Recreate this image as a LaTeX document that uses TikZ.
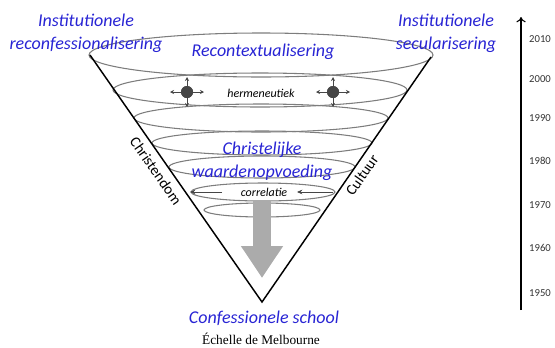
\documentclass[tikz,border=0pt]{standalone}
\usepackage{fontspec}
\setmainfont{Carlito}
\newfontfamily\captionserif{Liberation Serif}
\usetikzlibrary{arrows.meta}
\definecolor{labelblue}{RGB}{40,36,212}
\definecolor{ringgray}{RGB}{125,125,125}
\definecolor{dotgray}{RGB}{70,70,70}
\tikzset{
  bluelabel/.style={color=labelblue, font=\fontsize{13.5}{17}\selectfont\itshape, inner sep=0.75pt, align=center},
  smalllabel/.style={font=\fontsize{9}{11}\selectfont\itshape, inner sep=0.75pt},
  sidelabel/.style={font=\fontsize{11.3}{13}\selectfont, inner sep=0.75pt},
  yearlabel/.style={font=\fontsize{8}{10}\selectfont, color=black!80, inner sep=0.75pt},
  ring/.style={color=ringgray, line width=0.8},
  dotarrow/.style={color=dotgray, line width=0.6, -{Stealth[length=3pt,width=3pt]}},
  corrarrow/.style={color=dotgray, line width=0.7, -{Stealth[length=4pt,width=3.5pt]}},
  hermdot/.style={circle, fill=dotgray, inner sep=0pt, minimum size=9pt},
}
\begin{document}
\begin{tikzpicture}[x=0.75pt,y=0.75pt,yscale=-1,xscale=1]
\useasboundingbox (0,0) rectangle (555,347);
%Shape: Ellipse
\draw [ring] (261,55) ellipse [x radius=172, y radius=22];
%Shape: Ellipse
\draw [ring] (260,90) ellipse [x radius=147, y radius=17];
%Shape: Ellipse
\draw [ring] (261,118) ellipse [x radius=127, y radius=14];
%Shape: Ellipse
\draw [ring] (262,143) ellipse [x radius=110, y radius=12];
%Shape: Ellipse
\draw [ring] (262,167) ellipse [x radius=93, y radius=11];
%Shape: Ellipse
\draw [ring] (263,192) ellipse [x radius=72, y radius=9];
%Shape: Ellipse
\draw [ring] (262,210) ellipse [x radius=58, y radius=7];
%Straight Lines: cone
\coordinate (coneL) at (90,55);
\coordinate (coneR) at (431,57);
\coordinate (apex) at (262,302);
\draw [line width=1.1] (coneL) -- (apex) -- (coneR);
%Shape: hermeneutiek dots
\node (dotL) [hermdot] at (187,92) {};
\node (dotR) [hermdot] at (333,92) {};
\draw [dotarrow] (dotL.center) -- ++(17,0);
\draw [dotarrow] (dotL.center) -- ++(-17,0);
\draw [dotarrow] (dotL.center) -- ++(0,15);
\draw [dotarrow] (dotL.center) -- ++(0,-15);
\draw [dotarrow] (dotR.center) -- ++(17,0);
\draw [dotarrow] (dotR.center) -- ++(-17,0);
\draw [dotarrow] (dotR.center) -- ++(0,15);
\draw [dotarrow] (dotR.center) -- ++(0,-15);
\node (dotL) [hermdot] at (187,92) {};
\node (dotR) [hermdot] at (333,92) {};
%Straight Lines: correlatie
\coordinate (corrLtail) at (222,192);
\coordinate (corrLhead) at (190,192);
\coordinate (corrRtail) at (333,192);
\coordinate (corrRhead) at (297,192);
\draw [corrarrow] (corrLtail) -- (corrLhead);
\draw [corrarrow] (corrRtail) -- (corrRhead);
%Shape: Block Arrow
\coordinate (flowtop) at (262,200);
\coordinate (flowtip) at (262,278);
\draw [color=black!33, line width=13.5pt, -{Triangle[length=24pt,width=30pt]}] (flowtop) -- (flowtip);
%Straight Lines: time axis
\coordinate (timebottom) at (521,310);
\coordinate (timetop) at (521,17);
\draw [line width=0.8, -{To[length=4pt,width=7pt]}] (timebottom) -- (timetop);
% Text Node
\draw (86,33) node (reconf) [bluelabel] {Institutionele\\reconfessionalisering};
% Text Node
\draw (446,33) node (secul) [bluelabel] {Institutionele\\secularisering};
% Text Node
\draw (263,52) node (recontext) [bluelabel] {Recontextualisering};
% Text Node
\draw (261,93) node (herm) [smalllabel] {hermeneutiek};
% Text Node
\draw (262,161) node (waarden) [bluelabel] {Christelijke\\waardenopvoeding};
% Text Node
\draw (264,192) node (corr) [smalllabel] {correlatie};
% Text Node
\draw (156,171) node (christendom) [sidelabel, rotate=-55] {Christendom};
% Text Node
\draw (362,175) node (cultuur) [sidelabel, rotate=55] {Cultuur};
% Text Node
\draw (264,318) node (confschool) [bluelabel] {Confessionele school};
% Text Node
\draw (261,339) node (melbourne) [inner sep=0.75pt, font=\captionserif\fontsize{10}{12}\selectfont] {Échelle de Melbourne};
% Text Node
\draw (540,39) node (y2010) [yearlabel] {2010};
\draw (540,79) node (y2000) [yearlabel] {2000};
\draw (540,118) node (y1990) [yearlabel] {1990};
\draw (540,161) node (y1980) [yearlabel] {1980};
\draw (540,205) node (y1970) [yearlabel] {1970};
\draw (540,248) node (y1960) [yearlabel] {1960};
\draw (540,293) node (y1950) [yearlabel] {1950};
\end{tikzpicture}
\end{document}
